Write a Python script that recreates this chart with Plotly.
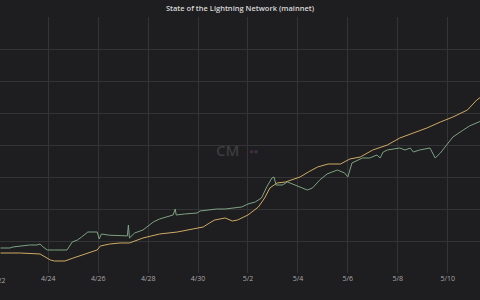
import pandas as pd
import plotly.graph_objects as go

START = pd.Timestamp("2018-04-22 00:00")

# hours since START and values (arbitrary units, gridline = 1000)
green_hours = [2, 11, 14, 21, 30, 37, 40, 43, 47, 54, 66, 71, 76, 80, 86, 95, 97, 99, 107, 124,
               125, 126, 131, 139, 149, 155, 162, 168, 170, 171, 179, 191, 194, 203, 210, 218,
               228, 234, 240, 247, 253, 258, 263, 265, 267, 273, 278, 285, 290, 297, 302, 309,
               316, 326, 333, 336, 340, 350, 357, 364, 367, 370, 374, 386, 391, 396, 399, 405,
               415, 420, 425, 431, 437, 447, 453, 464]
green_vals = [781, 781, 813, 844, 875, 875, 906, 813, 719, 719, 719, 969, 1031, 1125, 1281, 1281,
              1063, 1219, 1180, 1160, 1500, 1094, 1250, 1344, 1594, 1688, 1750, 1813, 2000, 1813,
              1844, 1875, 1938, 1969, 2000, 2000, 2031, 2063, 2156, 2219, 2344, 2688, 2969, 3000,
              2750, 2750, 2844, 2750, 2688, 2594, 2656, 2906, 3094, 3219, 3125, 3000, 3438, 3594,
              3594, 3688, 3594, 3781, 3844, 3906, 3844, 3906, 3781, 3844, 3906, 3594, 3750, 4000,
              4250, 4469, 4594, 4750]

yellow_hours = [2, 21, 40, 45, 50, 54, 64, 72, 78, 85, 95, 98, 107, 117, 126, 139, 155, 172, 187,
                197, 203, 208, 218, 225, 230, 240, 250, 256, 261, 268, 276, 282, 290, 298, 307,
                317, 329, 338, 348, 360, 374, 386, 399, 412, 425, 437, 451, 460, 464]
yellow_vals = [625, 625, 594, 500, 406, 375, 375, 469, 531, 594, 719, 844, 906, 938, 938, 1094,
               1219, 1281, 1375, 1438, 1563, 1656, 1719, 1625, 1656, 1813, 2063, 2344, 2656, 2813,
               2844, 2906, 3000, 3156, 3313, 3406, 3406, 3563, 3625, 3844, 4000, 4219, 4375, 4531,
               4719, 4875, 5094, 5406, 5500]

title_text = "State of the Lightning Network (mainnet)"

green_t = [START + pd.Timedelta(hours=h) for h in green_hours]
yellow_t = [START + pd.Timedelta(hours=h) for h in yellow_hours]

BG = "#1e1d1f"
GRID = "#343436"

fig = go.Figure()
fig.add_trace(go.Scatter(x=yellow_t, y=yellow_vals, mode="lines",
                         line=dict(color="#cdab64", width=1), showlegend=False))
fig.add_trace(go.Scatter(x=green_t, y=green_vals, mode="lines",
                         line=dict(color="#7da283", width=1), showlegend=False))

fig.update_layout(
    width=480, height=300,
    margin=dict(l=0, r=0, t=17, b=27),
    paper_bgcolor=BG, plot_bgcolor=BG,
    title=dict(text=title_text, x=0.5, xanchor="center", y=1 - 8 / 300, yanchor="middle",
               font=dict(family="Open Sans", size=7.5, color="#d8d9da", weight=600)),
    xaxis=dict(type="date", range=["2018-04-22 01:32", "2018-05-11 07:06"],
               tick0="2018-04-22", dtick=2 * 86400000, tickformat="%-m/%-d",
               showgrid=True, gridcolor=GRID, gridwidth=1, zeroline=False, showline=False,
               ticks="", tickfont=dict(family="Open Sans", size=7, color="#a8a9aa")),
    yaxis=dict(range=[0, 8000], dtick=1000, showgrid=True, gridcolor=GRID, gridwidth=1,
               zeroline=False, showticklabels=False, ticks=""),
    annotations=[
        dict(text="4/22", xref="paper", yref="paper", x=-1.6 / 480, y=-7 / 256,
             xanchor="center", yanchor="middle", showarrow=False,
             font=dict(family="Open Sans", size=7, color="#a8a9aa")),
        dict(text="CM", xref="paper", yref="paper", x=227 / 480, y=(273 - 150) / 256,
             xanchor="center", yanchor="middle", showarrow=False,
             font=dict(family="Open Sans", size=15, color="#3d3c3e", weight=600)),
        dict(text="<span style='color:#4a2a2e'>●</span><span style='color:#2a3550'>●</span>",
             xref="paper", yref="paper", x=254 / 480, y=(273 - 150) / 256,
             xanchor="center", yanchor="middle", showarrow=False,
             font=dict(family="Open Sans", size=8)),
    ],
)

fig.write_html("out.html")
